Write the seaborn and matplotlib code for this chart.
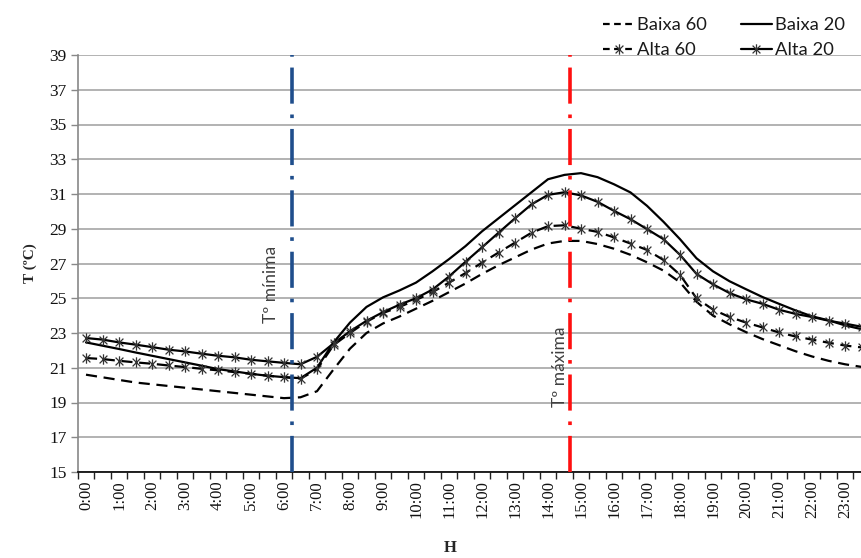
import numpy as np
import pandas as pd
import matplotlib
matplotlib.use("Agg")
import matplotlib.pyplot as plt
from matplotlib.path import Path
from matplotlib.lines import Line2D
import seaborn as sns

# ---------------- data (half-hourly, 0:00 .. 23:30) ----------------
times = [f"{h}:{m:02d}" for h in range(24) for m in (0, 30)]
hour_labels = ["0:00", "1:00", "2:00", "3:00", "4:00", "5:00", "6:00", "7:00",
               "8:00", "9:00", "10:00", "11:00", "12:00", "13:00", "14:00", "15:00",
               "16:00", "17:00", "18:00", "19:00", "20:00", "21:00", "22:00", "23:00"]

baixa_60 = [20.6, 20.45, 20.3, 20.15, 20.05, 19.95, 19.85, 19.75, 19.65, 19.55,
            19.45, 19.35, 19.25, 19.3, 19.65, 20.9, 22.1, 23.0, 23.55, 23.95,
            24.4, 24.85, 25.35, 25.85, 26.4, 26.9, 27.35, 27.8, 28.15, 28.3,
            28.3, 28.12, 27.85, 27.5, 27.07, 26.59, 25.92, 24.8, 24.0, 23.5,
            23.05, 22.65, 22.3, 21.95, 21.65, 21.4, 21.2, 21.05]
baixa_20 = [22.46, 22.27, 22.08, 21.88, 21.69, 21.5, 21.31, 21.12, 20.92, 20.79,
            20.65, 20.54, 20.46, 20.4, 21.0, 22.45, 23.6, 24.5, 25.05, 25.45,
            25.9, 26.55, 27.25, 28.0, 28.85, 29.6, 30.35, 31.1, 31.85, 32.1,
            32.2, 31.97, 31.56, 31.09, 30.32, 29.4, 28.4, 27.3, 26.55, 25.98,
            25.52, 25.07, 24.68, 24.3, 23.96, 23.73, 23.44, 23.22]
alta_60 = [21.56, 21.5, 21.4, 21.31, 21.23, 21.13, 21.04, 20.94, 20.85, 20.75,
           20.65, 20.54, 20.46, 20.37, 20.9, 22.3, 23.0, 23.65, 24.15, 24.5,
           24.9, 25.35, 25.9, 26.45, 27.05, 27.63, 28.2, 28.77, 29.15, 29.2,
           29.0, 28.82, 28.5, 28.15, 27.78, 27.2, 26.35, 25.0, 24.35, 23.92,
           23.6, 23.32, 23.03, 22.8, 22.62, 22.44, 22.28, 22.17]
alta_20 = [22.71, 22.62, 22.46, 22.33, 22.19, 22.04, 21.94, 21.81, 21.69, 21.6,
           21.46, 21.37, 21.28, 21.2, 21.63, 22.4, 23.1, 23.7, 24.2, 24.63,
           25.0, 25.5, 26.25, 27.1, 27.93, 28.77, 29.6, 30.4, 30.95, 31.1,
           30.92, 30.55, 30.03, 29.55, 28.98, 28.4, 27.5, 26.4, 25.8, 25.3,
           24.94, 24.68, 24.34, 24.1, 23.92, 23.71, 23.54, 23.36]

series_names = ["Baixa 60", "Baixa 20", "Alta 60", "Alta 20"]
t_minima_hour = 6.25    # Tº mínima
t_maxima_hour = 14.67   # Tº máxima

# ---------------- styling ----------------
sns.set_theme(style="white")
plt.rcParams["font.family"] = ["Liberation Serif", "DejaVu Serif"]

star = Path([(0, -1), (0, 1), (-0.75, -0.75), (0.75, 0.75), (-0.75, 0.75), (0.75, -0.75)],
            [Path.MOVETO, Path.LINETO, Path.MOVETO, Path.LINETO, Path.MOVETO, Path.LINETO])

styles = {
    "Baixa 60": dict(dashes=(5, 3), marker=None),
    "Baixa 20": dict(dashes=(None, None), marker=None),
    "Alta 60": dict(dashes=(5, 3), marker=star),
    "Alta 20": dict(dashes=(None, None), marker=star),
}

df = pd.DataFrame({
    "idx": np.tile(np.arange(len(times)), 4),
    "hora": times * 4,
    "T": baixa_60 + baixa_20 + alta_60 + alta_20,
    "serie": np.repeat(series_names, len(times)),
})

fig = plt.figure(figsize=(8.61, 5.58), dpi=100)
ax = fig.add_axes([77.75 / 861, 86 / 558, 792 / 861, 417 / 558])

for name in series_names:
    st = styles[name]
    sub = df[df["serie"] == name]
    kw = dict(color="black", linewidth=1.6)
    if st["marker"] is not None:
        kw.update(marker=st["marker"], markersize=7.5, markerfacecolor="none",
                  markeredgecolor="#333333", markeredgewidth=0.9)
    line = sns.lineplot(data=sub, x="idx", y="T", ax=ax, legend=False, **kw).lines[-1]
    if st["dashes"][0] is not None:
        line.set_dashes(st["dashes"])

# vertical reference lines
ax.axvline(t_minima_hour * 2, color="#1f4e8c", linewidth=2.6, dashes=(10, 3, 1, 3), zorder=5)
ax.axvline(t_maxima_hour * 2, color="#ff1010", linewidth=2.6, dashes=(10, 3, 1, 3), zorder=5)
ax.text(11.2, 25.8, "Tº mínima", rotation=90, ha="center", va="center",
        fontsize=12.5, color="#404040", family=["Lato", "DejaVu Sans"])
ax.text(28.73, 21.05, "Tº máxima", rotation=90, ha="center", va="center",
        fontsize=12.5, color="#404040", family=["Lato", "DejaVu Sans"])

# axes
ax.set_xlim(-0.5, 47.5)
ax.set_ylim(15, 39)
ax.set_yticks(np.arange(15, 40, 2))
ax.yaxis.grid(True, color="#a6a6a6", linewidth=1.2)
ax.xaxis.grid(False)
ax.set_xticks(np.arange(0, 48, 2))
ax.set_xticklabels(hour_labels, rotation=90)
ax.set_xticks(np.arange(-0.5, 48, 1), minor=True)
ax.tick_params(axis="x", which="major", length=0, pad=6, labelsize=12, colors="#111111")
ax.tick_params(axis="x", which="minor", length=5, width=1, color="#222222", bottom=True)
ax.tick_params(axis="y", which="major", length=5, width=1, color="#888888", left=True,
               labelsize=12.5, pad=3, labelcolor="#111111")
for s in ("top", "right"):
    ax.spines[s].set_visible(False)
ax.spines["left"].set_color("#888888")
ax.spines["left"].set_linewidth(1.2)
ax.spines["bottom"].set_color("#111111")
ax.spines["bottom"].set_linewidth(1.3)
ax.set_xlabel("")
ax.set_ylabel("T (ºC)", fontsize=11, fontweight="bold", labelpad=9)
fig.text(450 / 861, 1 - 548 / 558, "H", ha="center", va="center", fontsize=12, fontweight="bold")

# legend
mk = dict(marker=star, markersize=7.5, markerfacecolor="none",
          markeredgecolor="#333333", markeredgewidth=0.9)
handles = [Line2D([], [], color="black", lw=1.6, dashes=(3, 2)),
           Line2D([], [], color="black", lw=1.6, dashes=(3, 2), **mk),
           Line2D([], [], color="black", lw=1.6),
           Line2D([], [], color="black", lw=1.6, **mk)]
labels = ["Baixa 60", "Alta 60", "Baixa 20", "Alta 20"]
fig.legend(handles, labels, ncol=2, loc="upper left", bbox_to_anchor=(594 / 861, 1 - 8 / 558),
           frameon=False, borderpad=0, handlelength=1.7, handletextpad=0.15,
           columnspacing=1.85, labelspacing=0.5,
           prop={"family": ["Lato", "DejaVu Sans"], "size": 13.2},
           labelcolor="#1a1a1a")

fig.savefig("out.png", dpi=100)
